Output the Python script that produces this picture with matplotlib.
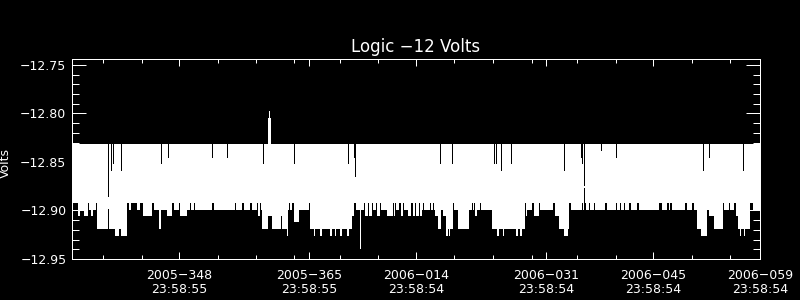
import numpy as np
import matplotlib
matplotlib.use('Agg')
import matplotlib.pyplot as plt

# time axis: days since 2005-334 23:58:55
x_major = [14, 31, 45, 62, 76, 90]
x_labels = ['2005\u2212348\n23:58:55', '2005\u2212365\n23:58:55', '2006\u2212014\n23:58:54',
            '2006\u2212031\n23:58:54', '2006\u2212045\n23:58:54', '2006\u2212059\n23:58:54']
x_minor = [4.0, 9.2, 19.1, 24.1, 29.0, 35.0, 40.0, 50.0, 55.1, 60.2, 66.0, 71.2, 81.1, 86.1]
y_major = [-12.95, -12.90, -12.85, -12.80, -12.75]
y_labels = ['\u221212.95', '\u221212.90', '\u221212.85', '\u221212.80', '\u221212.75']

# quantised voltage levels (volts)
V_TOP = -12.8314
A, B, C, D, E, F = -12.8923, -12.8995, -12.9057, -12.9119, -12.9191, -12.9263

# lower edge of the sample band: start day of each run, level of the run
low_day = [0.00, 0.78, 1.09, 1.53, 2.09, 2.22, 2.52, 2.79, 3.14, 3.27, 5.66, 6.11, 6.41, 7.19,
           7.42, 7.76, 8.50, 8.93, 9.25, 10.46, 10.69, 11.42, 11.68, 12.43, 13.08, 13.30, 13.96,
           14.17, 15.04, 15.40, 15.53, 15.92, 16.13, 18.31, 18.61, 19.32, 19.40, 21.36, 21.49,
           22.24, 22.46, 23.32, 23.54, 24.20, 24.29, 24.55, 24.72, 24.85, 25.64, 26.16, 27.38,
           27.51, 28.12, 28.25, 28.34, 28.47, 28.78, 29.00, 29.65, 30.96, 31.09, 31.61, 31.82,
           32.48, 32.70, 33.79, 34.01, 34.44, 34.57, 35.09, 35.32, 35.97, 36.19, 36.62, 36.85,
           37.19, 38.15, 38.29, 38.72, 38.81, 39.24, 39.37, 39.76, 39.89, 40.33, 40.46, 41.20,
           41.95, 42.08, 42.29, 42.42, 42.81, 42.99, 43.26, 43.43, 43.95, 44.38, 44.56, 44.83,
           44.96, 45.35, 45.48, 45.78, 45.91, 46.04, 46.87, 47.00, 47.22, 47.35, 47.52, 47.83,
           48.27, 48.53, 48.96, 49.14, 49.35, 49.48, 49.83, 50.00, 50.45, 51.89, 52.32, 52.45,
           52.62, 52.75, 52.97, 53.41, 53.54, 54.94, 55.59, 55.81, 56.34, 56.54, 58.11, 58.30,
           58.64, 58.86, 59.21, 59.38, 59.51, 60.17, 60.39, 61.04, 61.25, 62.91, 63.14, 63.74,
           64.35, 64.88, 65.01, 65.27, 66.71, 66.84, 67.06, 67.23, 67.58, 67.72, 68.24, 68.37,
           69.76, 69.94, 71.16, 71.33, 71.72, 71.85, 72.16, 72.29, 72.90, 73.08, 73.90, 74.12,
           76.74, 77.17, 77.83, 78.09, 78.26, 78.48, 80.22, 80.44, 81.10, 81.32, 81.75, 82.27,
           83.06, 83.28, 83.93, 85.15, 85.32, 85.90, 86.11, 86.63, 86.85, 87.07, 87.41, 87.55,
           87.86, 87.99, 88.72, 89.07]
low_val = [A, C, B, C, A, B, C, B, A, E, F, E, F, A,
           B, A, B, A, C, A, B, E, B, C, A, B, A,
           C, B, A, B, A, B, A, B, A, B, A, B,
           A, B, A, B, A, C, A, B, E, C, E, C,
           E, F, B, A, B, A, D, B, A, E, F, E,
           F, E, F, E, F, E, F, E, F, E, C, A,
           B, A, C, A, C, A, B, A, C, A, B, C,
           A, C, A, B, A, C, A, B, C, A, C, A,
           C, A, C, B, A, B, A, B, A, B, C, E,
           B, C, F, E, F, E, A, B, E, B, A, B,
           A, C, B, A, B, E, F, E, F, E, F, E,
           F, E, A, C, B, A, C, A, B, A, C, E,
           F, E, A, B, A, B, A, B, A, B, A, B,
           A, B, A, B, A, B, A, B, A, B, A, B,
           A, B, A, B, A, B, A, B, A, B, E, F,
           B, C, E, A, B, A, B, A, C, E, F, E,
           F, E, A, B]

# short drop-outs inside the band (black): day, upper and lower volts
dip_day = [4.77, 4.77, 5.10, 5.36, 6.41, 11.64, 12.62, 18.31, 20.27, 24.98, 29.04, 36.10, 36.89,
           37.06, 48.17, 49.70, 55.24, 55.46, 56.11, 57.46, 64.39, 66.62, 66.75, 67.01, 67.01,
           69.23, 71.16, 82.53, 83.36, 87.73, 87.78]
dip_hi = [V_TOP, -12.8985, V_TOP, V_TOP, V_TOP, V_TOP, V_TOP, V_TOP, V_TOP, V_TOP, V_TOP, V_TOP,
          V_TOP, V_TOP, V_TOP, V_TOP, V_TOP, V_TOP, V_TOP, V_TOP, V_TOP, V_TOP, V_TOP, V_TOP,
          -12.877, V_TOP, V_TOP, V_TOP, V_TOP, V_TOP, V_TOP]
dip_lo = [-12.885, -12.919, -12.858, -12.851, -12.858, -12.851, -12.845, -12.845, -12.845,
          -12.851, -12.851, -12.851, -12.845, -12.8645, -12.851, -12.851, -12.851, -12.851,
          -12.858, -12.851, -12.858, -12.845, -12.851, -12.874, -12.8995, -12.838, -12.845,
          -12.858, -12.845, -12.858, -12.851]

# excursions outside the band (white): start/end day, upper and lower volts
spike_day0 = [25.67, 25.80, 37.62]
spike_day1 = [25.99, 25.93, 37.75]
spike_hi = [-12.8043, -12.7974, B]
spike_lo = [V_TOP, V_TOP, -12.9397]

plt.rcParams['font.family'] = ['DejaVu Sans']

fig = plt.figure(figsize=(8, 3), dpi=100, facecolor='black')
ax = fig.add_axes([0.09, 0.1367, 0.86, 0.6667], facecolor='black')

t = np.array(low_day + [90.0])
lo = np.array(low_val + [low_val[-1]])
ax.fill_between(t, lo, V_TOP, step='post', color='white', lw=0, antialiased=False)
ax.vlines(dip_day, dip_lo, dip_hi, colors='black', lw=0.72, antialiased=False)
for d0, d1, hi, lo_ in zip(spike_day0, spike_day1, spike_hi, spike_lo):
    ax.fill_between([d0, d1], lo_, hi, color='white', lw=0, antialiased=False)

ax.set_xlim(0, 90)
ax.set_ylim(-12.95, -12.7438)

ax.set_xticks(x_major)
ax.set_xticklabels(x_labels)
ax.set_xticks(x_minor, minor=True)
ax.set_yticks(y_major)
ax.set_yticklabels(y_labels)
ax.set_yticks(np.arange(-12.95, -12.745, 0.01), minor=True)

for s in ax.spines.values():
    s.set_color('white')
    s.set_linewidth(0.72)

ax.tick_params(which='both', direction='in', colors='white', top=True, right=True,
               labelsize=9, width=0.72)
ax.tick_params(axis='x', which='major', length=5, pad=7)
ax.tick_params(axis='x', which='minor', length=3)
ax.tick_params(axis='y', which='major', length=10, pad=4)
ax.tick_params(axis='y', which='minor', length=5)
for lab in ax.get_xticklabels():
    lab.set_linespacing(1.15)

ax.set_ylabel('Volts', color='white', fontsize=9)
ax.yaxis.set_label_coords(-0.088, 0.48)
ax.set_title('Logic \u221212 Volts', color='white', fontsize=12, pad=5)

fig.savefig('out.png', dpi=100, facecolor='black')
